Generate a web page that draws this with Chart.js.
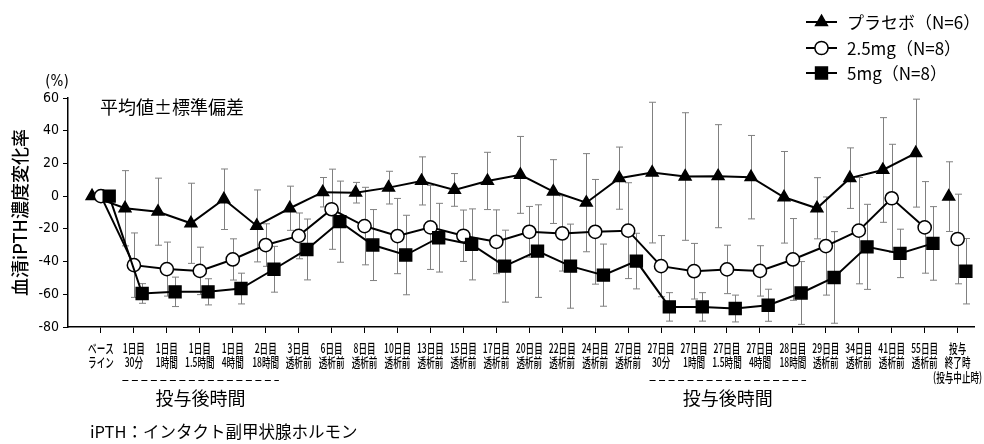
<!DOCTYPE html>
<html lang="ja">
<head>
<meta charset="utf-8">
<script src="https://cdn.jsdelivr.net/npm/chart.js@4"></script>
<style>
  html, body { margin: 0; padding: 0; background: #fff; }
  #wrap { position: relative; width: 984px; height: 444px; }
</style>
</head>
<body>
<div id="wrap"><canvas id="chart" width="984" height="444"></canvas></div>
<script>
// Time points (x categories)
const timeLabels = [
  ['ベース', 'ライン'],
  ['1日目', '30分'], ['1日目', '1時間'], ['1日目', '1.5時間'], ['1日目', '4時間'], ['2日目', '18時間'],
  ['3日目', '透析前'], ['6日目', '透析前'], ['8日目', '透析前'], ['10日目', '透析前'], ['13日目', '透析前'],
  ['15日目', '透析前'], ['17日目', '透析前'], ['20日目', '透析前'], ['22日目', '透析前'], ['24日目', '透析前'],
  ['27日目', '透析前'],
  ['27日目', '30分'], ['27日目', '1時間'], ['27日目', '1.5時間'], ['27日目', '4時間'], ['28日目', '18時間'],
  ['29日目', '透析前'], ['34日目', '透析前'], ['41日目', '透析前'], ['55日目', '透析前'],
  ['投与', '終了時', '(投与中止時)']
];

// Series names
const seriesNames = ['プラセボ（N=6）', '2.5mg（N=8）', '5mg（N=8）'];

// Mean % change of serum iPTH
const placeboMean = [0, -7.4, -9.5, -16.6, -1.9, -18.2, -7.4, 2.4, 2.1, 5.2, 9.3, 3.8, 9.3, 13.0, 2.8, -4.0, 11.0, 14.4, 12.0, 12.2, 11.6, -0.7, -7.4, 11.0, 16.0, 26.3, -0.3];
const dose25Mean  = [0, -42.2, -44.6, -45.7, -38.7, -29.9, -24.3, -8.0, -18.3, -24.4, -19.1, -24.2, -27.9, -21.8, -22.8, -21.8, -21.1, -42.8, -45.9, -44.8, -45.7, -38.7, -30.5, -21.1, -1.3, -19.1, -26.2];
const dose5Mean   = [0, -59.5, -58.5, -58.5, -56.5, -44.7, -32.6, -15.6, -29.9, -36.0, -25.4, -29.5, -42.8, -33.6, -42.8, -48.3, -39.7, -67.7, -67.7, -68.7, -66.7, -59.2, -49.7, -31.0, -35.0, -28.9, -45.9];

// Standard deviations (no bar at baseline)
const placeboSD = [null, 23.0, 20.5, 24.5, 18.5, 22.0, 13.5, 9.0, 6.3, 10.0, 14.7, 10.0, 17.5, 23.5, 19.5, 30.0, 19.0, 43.0, 39.0, 31.5, 25.5, 28.0, 18.7, 18.5, 32.0, 33.0, 21.3];
const dose25SD  = [null, 19.7, 16.5, 14.5, 12.6, 13.0, 14.0, 24.5, 23.7, 23.0, 25.7, 15.7, 19.5, 15.5, 23.0, 32.0, 29.3, 18.7, 17.0, 14.8, 15.4, 25.0, 30.0, 32.5, 33.0, 28.0, 27.4];
const dose5SD   = [null, 6.0, 9.0, 8.0, 9.4, 14.0, 18.6, 24.8, 21.7, 24.3, 21.0, 21.7, 22.0, 28.3, 25.7, 19.0, 17.0, 8.7, 8.7, 8.2, 9.8, 19.2, 28.0, 26.0, 14.8, 22.5, 20.0];

// Y axis ticks
const yTicks = [60, 40, 20, 0, -20, -40, -60, -80];

// Post-dose hour ranges (category index spans)
const postDoseRanges = [[1, 5], [17, 21]];

const JP = "'Noto Sans CJK JP', sans-serif";
const NARROW = "'Liberation Sans Narrow', 'DejaVu Sans Condensed', 'Noto Sans CJK JP', sans-serif";
const lastIdx = timeLabels.length - 1;

// Markers are nudged sideways so the three series do not overlap
const seriesStyle = [
  { shift: -0.27, pointStyle: 'triangle', radius: 6.8, bg: '#000' },
  { shift: 0, pointStyle: 'circle', radius: 6.6, bg: '#fff' },
  { shift: 0.25, pointStyle: 'rect', radius: 8.4, bg: '#000' }
];
const means = [placeboMean, dose25Mean, dose5Mean];
const sds = [placeboSD, dose25SD, dose5SD];

const datasets = means.map((m, k) => ({
  label: seriesNames[k],
  data: m.map((v, i) => ({ x: i + seriesStyle[k].shift, y: v })),
  errorSD: sds[k],
  borderColor: '#000',
  borderWidth: 2,
  pointStyle: seriesStyle[k].pointStyle,
  pointRadius: seriesStyle[k].radius,
  pointHoverRadius: seriesStyle[k].radius,
  pointBackgroundColor: seriesStyle[k].bg,
  pointBorderColor: '#000',
  pointBorderWidth: 1.5,
  tension: 0,
  clip: false,
  // the end-of-dosing point stands alone
  segment: { borderColor: ctx => ctx.p1DataIndex === lastIdx ? 'rgba(0,0,0,0)' : undefined },
  order: 3 - k
}));

// Mean ± SD whiskers
const errorBars = {
  id: 'errorBars',
  beforeDatasetsDraw(chart) {
    const { ctx, scales: { x, y } } = chart;
    ctx.save();
    ctx.strokeStyle = '#808080';
    ctx.lineWidth = 1;
    chart.data.datasets.forEach(ds => {
      ds.errorSD.forEach((s, i) => {
        if (s == null) return;
        const p = ds.data[i];
        const px = Math.round(x.getPixelForValue(p.x)) + 0.5;
        const top = y.getPixelForValue(p.y + s);
        const bot = y.getPixelForValue(p.y - s);
        ctx.beginPath();
        ctx.moveTo(px, top); ctx.lineTo(px, bot);
        ctx.moveTo(px - 3.5, top); ctx.lineTo(px + 3.5, top);
        ctx.moveTo(px - 3.5, bot); ctx.lineTo(px + 3.5, bot);
        ctx.stroke();
      });
    });
    ctx.restore();
  }
};

// Condensed two/three-line time labels under each x tick
const timeTickLabels = {
  id: 'timeTickLabels',
  afterDraw(chart) {
    const { ctx, scales: { x } } = chart;
    ctx.save();
    ctx.fillStyle = '#000';
    ctx.textAlign = 'center';
    ctx.textBaseline = 'middle';
    ctx.font = `500 13px ${JP}`;
    timeLabels.forEach((lines, i) => {
      const px = x.getPixelForValue(i);
      lines.forEach((t, j) => {
        ctx.save();
        ctx.translate(px, 348 + j * 14.5);
        ctx.scale(0.66, 1);
        ctx.fillText(t, 0, 0);
        ctx.restore();
      });
    });
    ctx.restore();
  }
};

// Legend, notes and post-dose brackets
const annotations = {
  id: 'annotations',
  afterDraw(chart) {
    const { ctx, scales: { x } } = chart;
    ctx.save();
    ctx.fillStyle = '#000';
    ctx.textBaseline = 'middle';

    ctx.font = `15px ${NARROW}`;
    ctx.textAlign = 'center';
    ctx.fillText('(%)', 57, 82);

    ctx.font = `18px ${JP}`;
    ctx.textAlign = 'left';
    ctx.fillText('平均値±標準偏差', 100, 107);

    // legend
    const rowsY = [22, 48, 73];
    chart.data.datasets.forEach((ds, k) => {
      const yy = rowsY[k];
      ctx.strokeStyle = '#000';
      ctx.lineWidth = 2;
      ctx.beginPath();
      ctx.moveTo(806, yy); ctx.lineTo(837, yy);
      ctx.stroke();
      ctx.fillStyle = seriesStyle[k].bg;
      ctx.lineWidth = 1.5;
      Chart.helpers.drawPoint(ctx, {
        pointStyle: seriesStyle[k].pointStyle,
        radius: seriesStyle[k].radius,
        rotation: 0,
        borderWidth: 1.5
      }, 821.5, yy);
      ctx.fillStyle = '#000';
      ctx.font = `17px ${JP}`;
      ctx.fillText(ds.label, 847, yy + 1);
    });

    // post-dose hour brackets
    ctx.strokeStyle = '#000';
    ctx.lineWidth = 1.2;
    ctx.setLineDash([6, 3.5]);
    ctx.font = `18px ${JP}`;
    ctx.textAlign = 'center';
    postDoseRanges.forEach(([a, b]) => {
      const x0 = x.getPixelForValue(a - 0.35);
      const x1 = x.getPixelForValue(b + 0.4);
      ctx.beginPath();
      ctx.moveTo(x0, 380.5); ctx.lineTo(x1, 380.5);
      ctx.stroke();
      ctx.fillText('投与後時間', (x0 + x1) / 2, 398);
    });
    ctx.setLineDash([]);

    ctx.textAlign = 'left';
    ctx.font = `16.5px ${JP}`;
    ctx.fillText('iPTH：インタクト副甲状腺ホルモン', 90, 432);
    ctx.restore();
  }
};

new Chart(document.getElementById('chart'), {
  type: 'line',
  data: { datasets },
  plugins: [errorBars, timeTickLabels, annotations],
  options: {
    responsive: false,
    animation: false,
    devicePixelRatio: 1,
    layout: { padding: { left: 0, right: 7, top: 98, bottom: 0 } },
    plugins: { legend: { display: false }, tooltip: { enabled: false } },
    scales: {
      x: {
        type: 'linear',
        min: -1,
        max: 26.5,
        afterBuildTicks: s => { s.ticks = timeLabels.map((_, i) => ({ value: i })); },
        afterFit: s => { s.height = 117; s.paddingLeft = 0; s.paddingRight = 0; },
        border: { display: true, color: '#000', width: 1.5 },
        grid: { display: true, drawOnChartArea: false, drawTicks: true, tickLength: 6, color: '#000', lineWidth: 1 },
        ticks: { display: false }
      },
      y: {
        type: 'linear',
        min: -80,
        max: 60,
        afterBuildTicks: s => { s.ticks = yTicks.map(v => ({ value: v })); },
        afterFit: s => { s.width = 68; },
        border: { display: true, color: '#000', width: 1.5 },
        grid: { display: true, drawOnChartArea: false, drawTicks: true, tickLength: 5, color: '#000', lineWidth: 1 },
        ticks: {
          padding: 4,
          color: '#000',
          font: { family: NARROW, size: 14 },
          callback: v => String(v)
        },
        title: {
          display: true,
          text: '血清iPTH濃度変化率',
          color: '#000',
          padding: { top: 9, bottom: 0 },
          font: { family: JP, size: 18, weight: '500' }
        }
      }
    }
  }
});
</script>
</body>
</html>
